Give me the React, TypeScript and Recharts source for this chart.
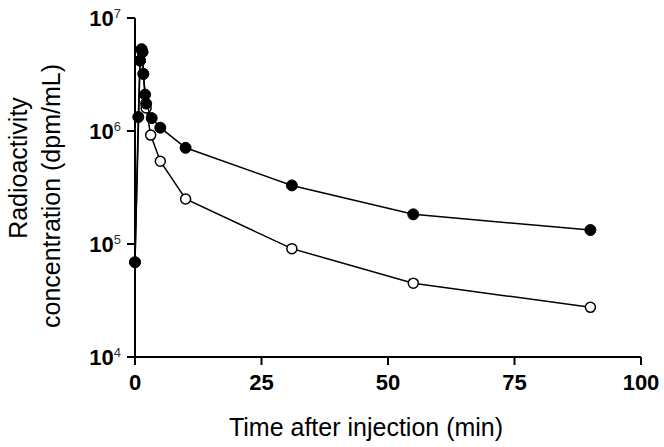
import { ScatterChart, Scatter, XAxis, YAxis, Label } from 'recharts';

// time after injection (min) and radioactivity (dpm/mL)
const filledTimes = [0, 0.65, 1.0, 1.3, 1.5, 1.65, 2.0, 2.2, 3.3, 5, 10, 31, 55, 90];
const filledValues = [6.9e4, 1.33e6, 4.2e6, 5.3e6, 5.0e6, 3.2e6, 2.1e6, 1.75e6, 1.3e6, 1.07e6, 7.1e5, 3.3e5, 1.83e5, 1.33e5];

const openTimes = [0, 1.0, 1.3, 1.65, 2.2, 3.1, 5, 10, 31, 55, 90];
const openValues = [6.9e4, 4.2e6, 5.2e6, 3.2e6, 1.6e6, 9.2e5, 5.4e5, 2.5e5, 9.1e4, 4.5e4, 2.75e4];

const xTicks = [0, 25, 50, 75, 100];
const yTicks = [1e4, 1e5, 1e6, 1e7];

const filledData = filledTimes.map((t, i) => ({ t, c: filledValues[i] }));
const openData = openTimes.map((t, i) => ({ t, c: openValues[i] }));

const FONT = '"Liberation Sans", Arial, sans-serif';

const YTick = ({ x, y, payload }: any) => {
  const exp = Math.round(Math.log10(payload.value));
  return (
    <text x={x} y={y} textAnchor="end" fontFamily={FONT} fill="#000">
      <tspan fontSize={22} fontWeight="bold" dy={8}>10</tspan>
      <tspan fontSize={13} fill="#333" dy={-8}>{exp}</tspan>
    </text>
  );
};

const YLabel = () => (
  <g fontFamily={FONT} fontSize={25} fill="#000">
    <text x={27} y={168} textAnchor="middle" transform="rotate(-90, 27, 168)">
      Radioactivity
    </text>
    <text x={60} y={196} textAnchor="middle" transform="rotate(-90, 60, 196)">
      concentration (dpm/mL)
    </text>
  </g>
);

const filledDot = (props: any) => (
  <circle cx={props.cx} cy={props.cy} r={5.5} fill="#000" stroke="#000" strokeWidth={1} />
);
const openDot = (props: any) => (
  <circle cx={props.cx} cy={props.cy} r={5} fill="#fff" stroke="#000" strokeWidth={1.5} />
);

export default function App() {
  return (
    <div style={{ width: 664, height: 447, background: '#fff' }}>
      <style>{'body{margin:0}'}</style>
      <ScatterChart width={664} height={447} margin={{ top: 18, right: 23, left: 0, bottom: 0 }}>
        <XAxis
          dataKey="t"
          type="number"
          domain={[0, 100]}
          ticks={xTicks}
          height={90}
          tickSize={8}
          tickMargin={9}
          stroke="#000"
          strokeWidth={2}
          tick={{ fontSize: 22, fontWeight: 'bold', fill: '#000', fontFamily: FONT }}
        >
          <Label
            value="Time after injection (min)"
            position="insideBottom"
            offset={11}
            dx={-22}
            style={{ fontSize: 25, fill: '#000', fontFamily: FONT }}
          />
        </XAxis>
        <YAxis
          dataKey="c"
          type="number"
          scale="log"
          domain={[1e4, 1e7]}
          ticks={yTicks}
          allowDataOverflow
          width={135}
          tickSize={8}
          tickMargin={6}
          stroke="#000"
          strokeWidth={2}
          tick={<YTick />}
        >
          <Label content={<YLabel />} />
        </YAxis>
        <Scatter
          data={openData}
          line={{ stroke: '#000', strokeWidth: 1.5 }}
          shape={openDot}
          isAnimationActive={false}
        />
        <Scatter
          data={filledData}
          line={{ stroke: '#000', strokeWidth: 1.5 }}
          shape={filledDot}
          isAnimationActive={false}
        />
      </ScatterChart>
    </div>
  );
}
